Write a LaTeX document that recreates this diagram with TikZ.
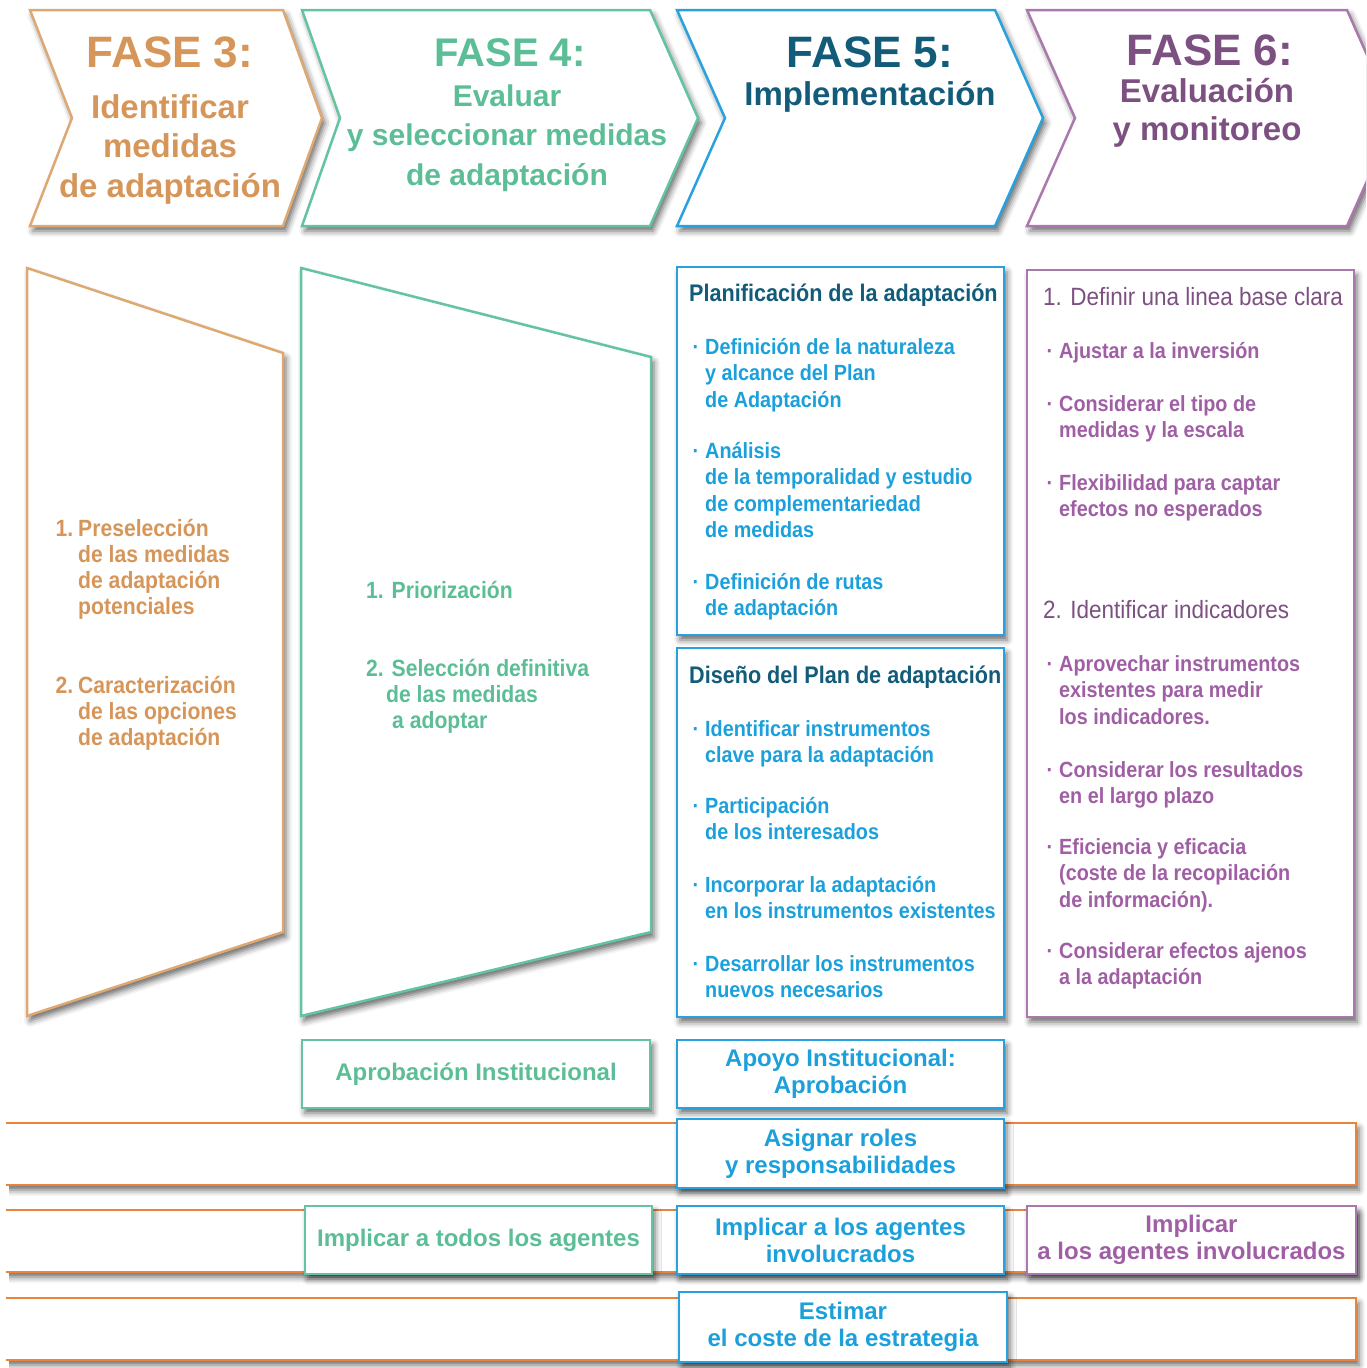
\documentclass[tikz,border=0pt]{standalone}
\usepackage{fontspec}
\setmainfont{Liberation Sans}
\newfontfamily\hf{Liberation Sans}
\newfontfamily\cf[FakeStretch=0.9]{Liberation Sans}
\usetikzlibrary{shadows.blur}
\definecolor{tThree}{RGB}{214,150,90}
\definecolor{bThree}{RGB}{222,168,115}
\definecolor{tFour}{RGB}{92,190,150}
\definecolor{bFour}{RGB}{100,196,160}
\definecolor{tFiveD}{RGB}{18,92,122}
\definecolor{tFive}{RGB}{28,160,220}
\definecolor{bFive}{RGB}{40,162,222}
\definecolor{tSixD}{RGB}{125,80,130}
\definecolor{tSix}{RGB}{160,95,165}
\definecolor{bSix}{RGB}{170,120,175}
\definecolor{barOr}{RGB}{232,132,62}
\newcommand{\rowsL}[1]{\begin{tabular}[t]{@{}l@{}}#1\end{tabular}}
\newcommand{\rowsC}[1]{\begin{tabular}[t]{@{}c@{}}#1\end{tabular}}
\newcommand{\bul}{\llap{·\hspace{6pt}}}
\begin{document}
\begin{tikzpicture}[x=1pt,y=-1pt,
  sh/.style={blur shadow={shadow xshift=3pt,shadow yshift=-5pt,shadow blur radius=6pt,shadow opacity=60}},
  outl/.style={line width=2.5pt,fill=white,sh},
  txt/.style={inner sep=0pt,anchor=base west},
  ctxt/.style={inner sep=0pt,anchor=base},
  headbig/.style={ctxt,font=\hf\bfseries\fontsize{44}{48}\selectfont},
  headsub/.style={ctxt,font=\hf\bfseries\fontsize{33}{39.5}\selectfont},
  bodyB/.style={txt,font=\cf\bfseries\fontsize{22}{26.5}\selectfont},
  panelB/.style={txt,font=\cf\bfseries\fontsize{23.5}{26.3}\selectfont},
  headR/.style={txt,font=\cf\fontsize{25}{30}\selectfont},
  titleB/.style={txt,font=\cf\bfseries\fontsize{24}{28}\selectfont},
  bbox/.style={line width=2.5pt,fill=white,sh,inner sep=0pt,align=center,
    font=\hf\bfseries\fontsize{24}{27}\selectfont},
  bar/.style={line width=2.5pt,draw=barOr,fill=white,sh}]
\useasboundingbox (0,0) rectangle (1366,1368);
\clip (0,0) rectangle (1366,1368);

% ---------- header chevrons ----------
\draw[outl,draw=bThree] (30,10) -- (283,10) -- (322,118) -- (283,226) -- (30,226) -- (72,118) -- cycle;
\draw[outl,draw=bFour] (302,10) -- (650,10) -- (698,118) -- (650,226) -- (302,226) -- (340,118) -- cycle;
\draw[outl,draw=bFive] (677,10) -- (995,10) -- (1043,118) -- (995,226) -- (677,226) -- (725,118) -- cycle;
\draw[outl,draw=bSix] (1027,10) -- (1347,10) -- (1395,118) -- (1347,226) -- (1027,226) -- (1075,118) -- cycle;

\node[headbig,text=tThree] (h3a) at (170,67) {FASE 3:};
\node[headsub,text=tThree] (h3b) at (170,118) {\rowsC{Identificar\\medidas\\de adaptación}};
\node[headbig,text=tFour,font=\hf\bfseries\fontsize{40}{44}\selectfont] (h4a) at (510,66) {FASE 4:};
\node[headsub,text=tFour,font=\hf\bfseries\fontsize{30}{39.5}\selectfont] (h4b) at (507,106) {\rowsC{Evaluar\\y seleccionar medidas\\de adaptación}};
\node[headbig,text=tFiveD] (h5a) at (870,67) {FASE 5:};
\node[headsub,text=tFiveD] (h5b) at (870,105) {Implementación};
\node[headbig,text=tSixD] (h6a) at (1210,65) {FASE 6:};
\node[headsub,text=tSixD,font=\hf\bfseries\fontsize{33}{38}\selectfont] (h6b) at (1207,102) {\rowsC{Evaluación\\y monitoreo}};

% ---------- phase 3 and 4 panels ----------
\draw[outl,draw=bThree] (27,268) -- (283,353) -- (283,932) -- (27,1016) -- cycle;
\draw[outl,draw=bFour] (301,268) -- (651,357) -- (651,932) -- (301,1016) -- cycle;

\node[panelB,text=tThree] (p3a) at (78,536) {\rowsL{\llap{1.\hspace{5pt}}Preselección\\de las medidas\\de adaptación\\potenciales}};
\node[panelB,text=tThree] (p3b) at (78,693) {\rowsL{\llap{2.\hspace{5pt}}Caracterización\\de las opciones\\de adaptación}};
\node[panelB,text=tFour] (p4a) at (366,598) {1. Priorización};
\node[panelB,text=tFour] (p4b) at (366,676) {\rowsL{2. Selección definitiva\\\hspace*{20pt}de las medidas\\\hspace*{26pt}a adoptar}};

% ---------- phase 5 boxes ----------
\node[outl,draw=bFive,minimum width=327pt,minimum height=368pt] (f5a) at (840.5,451) {};
\node[outl,draw=bFive,minimum width=327pt,minimum height=369pt] (f5b) at (840.5,832.5) {};

\node[titleB,text=tFiveD] (pa0) at (689,301) {Planificación de la adaptación};
\node[bodyB,text=tFive] (pa1) at (705,354) {\rowsL{\bul Definición de la naturaleza\\y alcance del Plan\\de Adaptación}};
\node[bodyB,text=tFive] (pa2) at (705,458) {\rowsL{\bul Análisis\\de la temporalidad y estudio\\de complementariedad\\de medidas}};
\node[bodyB,text=tFive] (pa3) at (705,589) {\rowsL{\bul Definición de rutas\\de adaptación}};

\node[titleB,text=tFiveD] (pb0) at (689,683) {Diseño del Plan de adaptación};
\node[bodyB,text=tFive] (pb1) at (705,736) {\rowsL{\bul Identificar instrumentos\\clave para la adaptación}};
\node[bodyB,text=tFive] (pb2) at (705,813) {\rowsL{\bul Participación\\de los interesados}};
\node[bodyB,text=tFive] (pb3) at (705,892) {\rowsL{\bul Incorporar la adaptación\\en los instrumentos existentes}};
\node[bodyB,text=tFive] (pb4) at (705,971) {\rowsL{\bul Desarrollar los instrumentos\\nuevos necesarios}};

% ---------- phase 6 box ----------
\node[outl,draw=bSix,minimum width=327pt,minimum height=747pt] (f6) at (1190.5,643.5) {};
\node[headR,text=tSixD] (s0) at (1043,305) {1. Definir una linea base clara};
\node[bodyB,text=tSix] (s1) at (1059,358) {\rowsL{\bul Ajustar a la inversión}};
\node[bodyB,text=tSix] (s2) at (1059,411) {\rowsL{\bul Considerar el tipo de\\medidas y la escala}};
\node[bodyB,text=tSix] (s3) at (1059,490) {\rowsL{\bul Flexibilidad para captar\\efectos no esperados}};
\node[headR,text=tSixD] (s00) at (1043,618) {2. Identificar indicadores};
\node[bodyB,text=tSix] (s4) at (1059,671) {\rowsL{\bul Aprovechar instrumentos\\existentes para medir\\los indicadores.}};
\node[bodyB,text=tSix] (s5) at (1059,777) {\rowsL{\bul Considerar los resultados\\en el largo plazo}};
\node[bodyB,text=tSix] (s6) at (1059,854) {\rowsL{\bul Eficiencia y eficacia\\(coste de la recopilación\\de información).}};
\node[bodyB,text=tSix] (s7) at (1059,958) {\rowsL{\bul Considerar efectos ajenos\\a la adaptación}};

% ---------- orange bars ----------
\draw[bar] (6,1123) -- (1356,1123) -- (1356,1185) -- (6,1185);
\draw[bar] (6,1210) -- (1356,1210) -- (1356,1272) -- (6,1272);
\draw[bar] (6,1298) -- (1356,1298) -- (1356,1360) -- (6,1360);

% ---------- bottom boxes ----------
\node[bbox,draw=bFour,text=tFour,minimum width=348pt,minimum height=68pt] (g1) at (476,1074) {Aprobación Institucional};
\node[bbox,draw=bFive,text=tFive,minimum width=327pt,minimum height=68pt] (b1) at (840.5,1074) {Apoyo Institucional:\\Aprobación};
\node[bbox,draw=bFive,text=tFive,minimum width=327pt,minimum height=69pt] (b2) at (840.5,1153.5) {Asignar roles\\y responsabilidades};
\node[bbox,draw=bFour,text=tFour,minimum width=347pt,minimum height=68pt] (g2) at (478.5,1240) {Implicar a todos los agentes};
\node[bbox,draw=bFive,text=tFive,minimum width=327pt,minimum height=68pt] (b3) at (840.5,1240) {Implicar a los agentes\\involucrados};
\node[bbox,draw=bSix,text=tSix,minimum width=329pt,minimum height=68pt] (pu) at (1191.5,1240) {Implicar\\a los agentes involucrados};
\node[bbox,draw=bFive,text=tFive,minimum width=328pt,minimum height=70pt] (b4) at (843,1327) {Estimar\\el coste de la estrategia};
\end{tikzpicture}
\end{document}
